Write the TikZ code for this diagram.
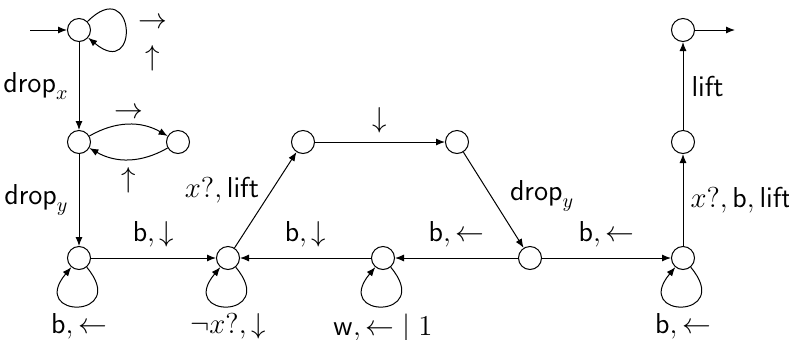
\documentclass[tikz,border=0pt]{standalone}
\usetikzlibrary{arrows.meta,calc}
\begin{document}
\begin{tikzpicture}[x=0.5pt,y=-0.5pt,
  every node/.append style={font=\fontsize{14}{16}\selectfont},
  state/.style={circle,draw,line width=0.5pt,minimum size=11.5pt,inner sep=0pt},
  tr/.style={-{Latex[length=4.5pt,width=3.5pt]},line width=0.5pt},
  lbl/.style={inner sep=2pt},
  loopb/.style={out=-50,in=-130,distance=34pt},
  loopr/.style={out=45,in=-40,distance=34pt}]
\useasboundingbox (0,0) rectangle (789,339);
\node[state] (A) at (79,30) {};
\node[state] (B) at (79,142) {};
\node[state] (C) at (178,142) {};
\node[state] (D) at (79,258) {};
\node[state] (E) at (228,258) {};
\node[state] (F) at (303,142) {};
\node[state] (G) at (457,142) {};
\node[state] (H) at (530,258) {};
\node[state] (I) at (383,258) {};
\node[state] (J) at (683,258) {};
\node[state] (K) at (683,142) {};
\node[state] (L) at (683,30) {};
\coordinate (init) at (30,30);
\coordinate (fin) at (735,30);
\draw[tr] (init) -- (A);
\draw[tr] (A) to[loopr] (A);
\node[lbl] (la1) at ($(A)+(74,-7)$) {$\rightarrow$};
\node[lbl] (la2) at ($(A)+(74,28)$) {$\uparrow$};
\draw[tr] (A) -- node[lbl,left=3pt]{$\mathsf{drop}_x$} (B);
\draw[tr] (B) to[bend left=30] node[lbl,above=0.8pt]{$\rightarrow$} (C);
\draw[tr] (C) to[bend left=30] node[lbl,below=2pt]{$\uparrow$} (B);
\draw[tr] (B) -- node[lbl,left=3pt]{$\mathsf{drop}_y$} (D);
\draw[tr] (D) to[loopb] node[lbl,below=1.5pt]{$\mathsf{b}, \leftarrow$} (D);
\draw[tr] (D) -- node[lbl,above=3pt]{$\mathsf{b}, \downarrow$} (E);
\draw[tr] (E) to[loopb] node[lbl,below=1.5pt]{$\neg x?, \downarrow$} (E);
\draw[tr] (E) -- node[lbl,anchor=east,xshift=-1pt,yshift=5pt]{$x?, \mathsf{lift}$} (F);
\draw[tr] (F) -- node[lbl,above=2pt]{$\downarrow$} (G);
\draw[tr] (G) -- node[lbl,anchor=west,xshift=6pt,yshift=2pt]{$\mathsf{drop}_y$} (H);
\draw[tr] (H) -- node[lbl,above=3pt]{$\mathsf{b}, \leftarrow$} (I);
\draw[tr] (I) to[loopb] node[lbl,below=1.5pt]{$\mathsf{w}, {\leftarrow} \mid 1$} (I);
\draw[tr] (I) -- node[lbl,above=3pt]{$\mathsf{b}, \downarrow$} (E);
\draw[tr] (H) -- node[lbl,above=3pt]{$\mathsf{b}, \leftarrow$} (J);
\draw[tr] (J) to[loopb] node[lbl,below=1.5pt]{$\mathsf{b}, \leftarrow$} (J);
\draw[tr] (J) -- node[lbl,right=1.5pt]{$x?, \mathsf{b}, \mathsf{lift}$} (K);
\draw[tr] (K) -- node[lbl,right=2pt]{$\mathsf{lift}$} (L);
\draw[tr] (L) -- (fin);
\end{tikzpicture}
\end{document}
